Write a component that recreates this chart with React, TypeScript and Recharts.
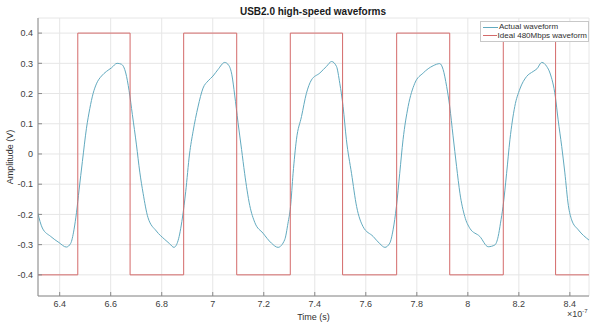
import { LineChart, Line, XAxis, YAxis, CartesianGrid, Legend } from 'recharts';

const FONT = '"Liberation Sans", Arial, Helvetica, sans-serif';
const axisColor = '#8a8a8a';
const gridColor = '#e6e6e6';
const actualColor = '#62aabf';
const idealColor = '#d46a6a';

const timeTicks = [6.4, 6.6, 6.8, 7, 7.2, 7.4, 7.6, 7.8, 8, 8.2, 8.4];
const ampTicks = [-0.4, -0.3, -0.2, -0.1, 0, 0.1, 0.2, 0.3, 0.4];
const timeDomain = [6.315, 8.475];
const ampDomain = [-0.47, 0.45];

// measured line voltage, time in units of 1e-7 s
const actualTime = [
  6.314, 6.332, 6.365, 6.397, 6.426, 6.443, 6.456, 6.466, 6.476, 6.489,
  6.505, 6.518, 6.531, 6.544, 6.564, 6.583, 6.603, 6.625, 6.642, 6.659,
  6.672, 6.685, 6.701, 6.714, 6.727, 6.746, 6.779, 6.812, 6.831, 6.848,
  6.864, 6.881, 6.894, 6.909, 6.923, 6.942, 6.962, 6.982, 7.001, 7.021,
  7.047, 7.063, 7.075, 7.086, 7.099, 7.113, 7.125, 7.145, 7.165, 7.197,
  7.230, 7.256, 7.282, 7.295, 7.305, 7.315, 7.328, 7.348, 7.367, 7.387,
  7.420, 7.446, 7.466, 7.485, 7.498, 7.511, 7.524, 7.544, 7.564, 7.589,
  7.629, 7.655, 7.675, 7.694, 7.707, 7.720, 7.733, 7.746, 7.766, 7.792,
  7.825, 7.864, 7.890, 7.903, 7.917, 7.929, 7.942, 7.956, 7.969, 7.988,
  8.008, 8.047, 8.080, 8.106, 8.119, 8.128, 8.138, 8.152, 8.165, 8.184,
  8.204, 8.230, 8.256, 8.271, 8.290, 8.309, 8.322, 8.343, 8.354, 8.368,
  8.380, 8.394, 8.407, 8.433, 8.475,
];
const actualAmp = [
  -0.195, -0.245, -0.273, -0.293, -0.308, -0.296, -0.251, -0.193, -0.119, -0.025,
  0.085, 0.150, 0.200, 0.232, 0.258, 0.273, 0.285, 0.300, 0.297, 0.268,
  0.210, 0.130, 0.030, -0.060, -0.130, -0.210, -0.255, -0.283, -0.297, -0.309,
  -0.287, -0.212, -0.125, 0.000, 0.075, 0.155, 0.218, 0.242, 0.258, 0.280,
  0.303, 0.293, 0.262, 0.195, 0.105, 0.015, -0.064, -0.170, -0.227, -0.262,
  -0.295, -0.309, -0.284, -0.229, -0.174, -0.064, 0.047, 0.124, 0.200, 0.245,
  0.268, 0.290, 0.306, 0.290, 0.234, 0.157, 0.047, -0.064, -0.174, -0.240,
  -0.273, -0.297, -0.309, -0.295, -0.251, -0.174, -0.064, 0.047, 0.157, 0.234,
  0.268, 0.292, 0.299, 0.280, 0.223, 0.157, 0.060, -0.042, -0.130, -0.207,
  -0.246, -0.273, -0.307, -0.301, -0.273, -0.229, -0.174, -0.064, 0.047, 0.157,
  0.215, 0.256, 0.273, 0.282, 0.303, 0.290, 0.268, 0.190, 0.113, 0.025,
  -0.060, -0.170, -0.218, -0.251, -0.285,
];

// ideal 480 Mbps bit stream: level changes at each edge
const idealTime = [6.315, 6.471, 6.676, 6.886, 7.094, 7.304, 7.509, 7.721, 7.929, 8.139, 8.344, 8.475];
const idealAmp = [-0.4, 0.4, -0.4, 0.4, -0.4, 0.4, -0.4, 0.4, -0.4, 0.4, -0.4, -0.4];

const actualData = actualTime.map((t, i) => ({ t, v: actualAmp[i] }));
const idealData = idealTime.map((t, i) => ({ t, v: idealAmp[i] }));

const fmt = (v: number) => `${+v.toFixed(1)}`;
const tickFont = { fontSize: 9, fill: '#404040', fontFamily: FONT };

function LegendBox() {
  const rows = [
    { name: 'Actual waveform', color: actualColor },
    { name: 'Ideal 480Mbps waveform', color: idealColor },
  ];
  return (
    <div
      style={{
        border: '1px solid #c8c8c8',
        background: '#fff',
        padding: '1px 1px 1px 2px',
        fontFamily: FONT,
        fontSize: 8,
        lineHeight: '8.5px',
        color: '#303030',
      }}
    >
      {rows.map((r) => (
        <div key={r.name} style={{ display: 'flex', alignItems: 'center' }}>
          <span style={{ width: 15, height: 0, borderTop: `1px solid ${r.color}`, marginRight: 1 }} />
          <span style={{ whiteSpace: 'nowrap' }}>{r.name}</span>
        </div>
      ))}
    </div>
  );
}

export default function App() {
  return (
    <div style={{ position: 'absolute', left: 0, top: 0, width: 590, height: 322, overflow: 'hidden', background: '#fff' }}>
      <div
        style={{
          position: 'absolute', left: 0, width: 626, top: 6, textAlign: 'center',
          fontFamily: FONT, fontWeight: 'bold', fontSize: 10, lineHeight: '12px', color: '#1a1a1a',
        }}
      >
        USB2.0 high-speed waveforms
      </div>
      <LineChart width={590} height={322} margin={{ top: 18, right: 1, bottom: 0, left: 0 }}>
        <CartesianGrid stroke={gridColor} strokeWidth={1} />
        <XAxis
          dataKey="t" type="number" domain={timeDomain} ticks={timeTicks} allowDataOverflow
          height={26} tickFormatter={fmt} tick={tickFont} tickSize={-4} tickMargin={9}
          stroke={axisColor} interval={0}
          label={{ value: 'Time (s)', position: 'insideBottom', offset: 2, style: { fontSize: 9, fill: '#303030', fontFamily: FONT } }}
        />
        <XAxis
          xAxisId="top" orientation="top" type="number" domain={timeDomain} ticks={timeTicks} allowDataOverflow
          height={0} tick={false} tickSize={-4} stroke={axisColor}
        />
        <YAxis
          type="number" domain={ampDomain} ticks={ampTicks} allowDataOverflow
          width={38} tickFormatter={fmt} tick={tickFont} tickSize={-4} tickMargin={9}
          stroke={axisColor} interval={0}
          label={{ value: 'Amplitude (V)', angle: -90, position: 'insideLeft', offset: 10, style: { textAnchor: 'middle', fontSize: 9, fill: '#303030', fontFamily: FONT } }}
        />
        <YAxis
          yAxisId="right" orientation="right" type="number" domain={ampDomain} ticks={ampTicks} allowDataOverflow
          width={0} tick={false} tickSize={-4} stroke={axisColor}
        />
        <Line
          data={actualData} dataKey="v" name="Actual waveform" type="monotone"
          stroke={actualColor} strokeWidth={1} dot={false} isAnimationActive={false}
        />
        <Line
          data={idealData} dataKey="v" name="Ideal 480Mbps waveform" type="stepAfter"
          stroke={idealColor} strokeWidth={1} dot={false} isAnimationActive={false}
        />
        <Legend
          layout="vertical" align="center" verticalAlign="middle"
          content={() => <LegendBox />}
          wrapperStyle={{ top: 21, left: 480, width: 109, height: 'auto', bottom: 'auto', right: 'auto' }}
        />
      </LineChart>
      <div
        style={{
          position: 'absolute', left: 567, top: 309, fontFamily: FONT, fontSize: 9,
          color: '#404040', whiteSpace: 'nowrap', lineHeight: '10px',
        }}
      >
        ×10<sup style={{ fontSize: 6, verticalAlign: 'top', position: 'relative', top: -3 }}>-7</sup>
      </div>
    </div>
  );
}
